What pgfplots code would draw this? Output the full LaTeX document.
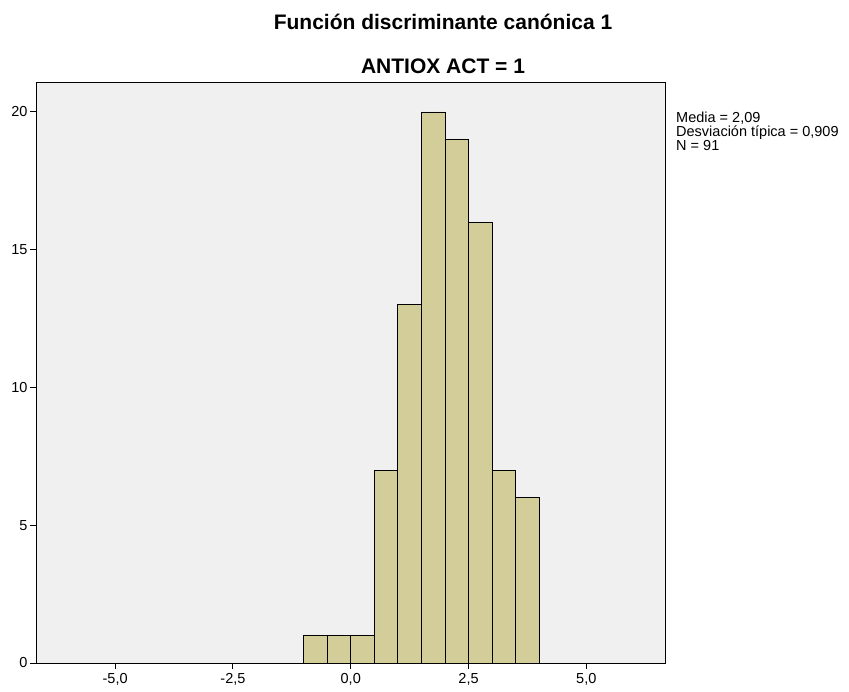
\documentclass[border=0pt]{standalone}
\usepackage{pgfplots}
\pgfplotsset{compat=1.18}
\usepackage{fontspec}
\setmainfont{Liberation Sans}
\definecolor{barfill}{RGB}{211,206,153}
\definecolor{bgfill}{RGB}{240,240,240}
\begin{document}
\begin{tikzpicture}
\path[use as bounding box] (0pt,0pt) rectangle (849pt,691pt);
\begin{axis}[
  at={(36pt,28pt)}, anchor=south west,
  scale only axis, width=629pt, height=580pt,
  xmin=-6.68, xmax=6.67, ymin=0, ymax=21.05,
  axis background/.style={fill=bgfill},
  axis line style={black, line width=1pt},
  xtick={-5,-2.5,0,2.5,5},
  xticklabels={{-5,0},{-2,5},{0,0},{2,5},{5,0}},
  ytick={0,5,10,15,20},
  tick align=outside, tick pos=lower,
  major tick length=6pt,
  tick style={black, line width=1pt},
  /pgf/number format/assume math mode=true,
  ticklabel style={font=\fontsize{14.5}{16}\selectfont},
  xticklabel style={yshift=-1pt},
  yticklabel style={xshift=1pt},
  clip=false,
]
\addplot[ybar interval, fill=barfill, draw=black, line width=0.8pt] coordinates {
(-1,1) (-0.5,1) (0,1) (0.5,7) (1,13) (1.5,20) (2,19) (2.5,16) (3,7) (3.5,6) (4,6)
};
\end{axis}
\node[font=\fontsize{21}{24}\selectfont\bfseries] at (443pt,669pt) {Función discriminante canónica 1};
\node[font=\fontsize{21}{24}\selectfont\bfseries] at (443pt,625pt) {ANTIOX ACT = 1};
\node[anchor=north west, align=left, inner sep=0pt, font=\fontsize{14.5}{14}\selectfont] at (676pt,579pt) {Media = 2,09\\Desviación típica = 0,909\\N = 91};
\end{tikzpicture}
\end{document}
